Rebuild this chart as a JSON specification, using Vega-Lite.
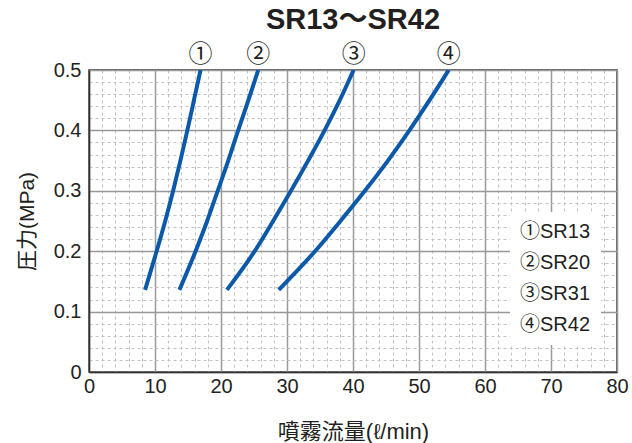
{
  "$schema": "https://vega.github.io/schema/vega-lite/v6.json",
  "autosize": "none",
  "width": 528,
  "height": 302,
  "padding": {"left": 89, "top": 70, "right": 15, "bottom": 71},
  "background": "white",
  "config": {
    "font": "Liberation Sans, Noto Sans CJK JP",
    "view": {"stroke": "#333333", "strokeWidth": 1.5},
    "axis": {"domainColor": "#333333", "domainWidth": 1.5}
  },
  "title": {
    "text": "SR13～SR42",
    "fontSize": 29,
    "fontWeight": "bold",
    "color": "#231f20",
    "anchor": "middle",
    "frame": "group",
    "offset": 8,
    "font": "Liberation Sans, Noto Sans CJK JP"
  },
  "data": {
    "values": [
      {"model": "①SR13", "label": "①", "flow": 8.5, "pressure": 0.136},
      {"model": "①SR13", "label": "①", "flow": 10.25, "pressure": 0.2},
      {"model": "①SR13", "label": "①", "flow": 11.55, "pressure": 0.25},
      {"model": "①SR13", "label": "①", "flow": 12.75, "pressure": 0.3},
      {"model": "①SR13", "label": "①", "flow": 13.85, "pressure": 0.35},
      {"model": "①SR13", "label": "①", "flow": 14.9, "pressure": 0.4},
      {"model": "①SR13", "label": "①", "flow": 15.9, "pressure": 0.45},
      {"model": "①SR13", "label": "①", "flow": 16.9, "pressure": 0.5},
      {"model": "②SR20", "label": "②", "flow": 13.7, "pressure": 0.136},
      {"model": "②SR20", "label": "②", "flow": 16.15, "pressure": 0.2},
      {"model": "②SR20", "label": "②", "flow": 17.9, "pressure": 0.25},
      {"model": "②SR20", "label": "②", "flow": 19.5, "pressure": 0.3},
      {"model": "②SR20", "label": "②", "flow": 21.1, "pressure": 0.35},
      {"model": "②SR20", "label": "②", "flow": 22.6, "pressure": 0.4},
      {"model": "②SR20", "label": "②", "flow": 24.15, "pressure": 0.45},
      {"model": "②SR20", "label": "②", "flow": 25.65, "pressure": 0.5},
      {"model": "③SR31", "label": "③", "flow": 20.9, "pressure": 0.136},
      {"model": "③SR31", "label": "③", "flow": 25.1, "pressure": 0.2},
      {"model": "③SR31", "label": "③", "flow": 27.9, "pressure": 0.25},
      {"model": "③SR31", "label": "③", "flow": 30.6, "pressure": 0.3},
      {"model": "③SR31", "label": "③", "flow": 33.2, "pressure": 0.35},
      {"model": "③SR31", "label": "③", "flow": 35.7, "pressure": 0.4},
      {"model": "③SR31", "label": "③", "flow": 38.0, "pressure": 0.45},
      {"model": "③SR31", "label": "③", "flow": 40.1, "pressure": 0.5},
      {"model": "④SR42", "label": "④", "flow": 28.75, "pressure": 0.136},
      {"model": "④SR42", "label": "④", "flow": 34.25, "pressure": 0.2},
      {"model": "④SR42", "label": "④", "flow": 38.1, "pressure": 0.25},
      {"model": "④SR42", "label": "④", "flow": 41.8, "pressure": 0.3},
      {"model": "④SR42", "label": "④", "flow": 45.3, "pressure": 0.35},
      {"model": "④SR42", "label": "④", "flow": 48.55, "pressure": 0.4},
      {"model": "④SR42", "label": "④", "flow": 51.6, "pressure": 0.45},
      {"model": "④SR42", "label": "④", "flow": 54.5, "pressure": 0.5}
    ]
  },
  "layer": [
    {
      "mark": {"type": "line", "strokeWidth": 4, "interpolate": "monotone", "clip": true},
      "encoding": {
        "x": {
          "field": "flow",
          "type": "quantitative",
          "scale": {"domain": [0, 80], "nice": false},
          "axis": {
            "title": "噴霧流量(ℓ/min)",
            "titleFontSize": 22,
            "titleFontWeight": "normal",
            "titleColor": "#231f20",
            "titlePadding": 25,
            "tickCount": 200,
            "values": [0,2,4,6,8,10,12,14,16,18,20,22,24,26,28,30,32,34,36,38,40,42,44,46,48,50,52,54,56,58,60,62,64,66,68,70,72,74,76,78,80],
            "labelExpr": "datum.value % 10 == 0 ? format(datum.value, 'd') : ''",
            "labelFontSize": 20,
            "labelColor": "#231f20",
            "labelPadding": 4,
            "labelFlush": false,
            "labelOverlap": false,
            "ticks": false,
            "grid": true,
            "gridColor": {"condition": {"test": "datum.value % 10 == 0", "value": "#999999"}, "value": "#c2c2c2"},
            "gridWidth": {"condition": {"test": "datum.value % 10 == 0", "value": 1.5}, "value": 1},
            "gridDash": {"condition": {"test": "datum.value % 10 == 0", "value": []}, "value": [3, 3]}
          }
        },
        "y": {
          "field": "pressure",
          "type": "quantitative",
          "scale": {"domain": [0, 0.5], "nice": false},
          "axis": {
            "title": "圧力(MPa)",
            "titleFontSize": 21,
            "titleFontWeight": "normal",
            "titleColor": "#231f20",
            "titlePadding": 16,
            "tickCount": 200,
            "values": [0,0.02,0.04,0.06,0.08,0.1,0.12,0.14,0.16,0.18,0.2,0.22,0.24,0.26,0.28,0.3,0.32,0.34,0.36,0.38,0.4,0.42,0.44,0.46,0.48,0.5],
            "labelExpr": "abs(datum.value*10 - round(datum.value*10)) < 0.001 ? (datum.value == 0 ? '0' : format(datum.value, '.1f')) : ''",
            "labelFontSize": 20,
            "labelColor": "#231f20",
            "labelPadding": 8,
            "labelFlush": false,
            "labelOverlap": false,
            "ticks": false,
            "grid": true,
            "gridColor": {"condition": {"test": "abs(datum.value*10 - round(datum.value*10)) < 0.001", "value": "#999999"}, "value": "#c2c2c2"},
            "gridWidth": {"condition": {"test": "abs(datum.value*10 - round(datum.value*10)) < 0.001", "value": 1.5}, "value": 1},
            "gridDash": {"condition": {"test": "abs(datum.value*10 - round(datum.value*10)) < 0.001", "value": []}, "value": [3, 3]}
          }
        },
        "color": {
          "field": "model",
          "type": "nominal",
          "scale": {"range": ["#0b59a8", "#0b59a8", "#0b59a8", "#0b59a8"]},
          "legend": {
            "title": null,
            "orient": "none",
            "legendX": 421,
            "legendY": 142,
            "fillColor": "white",
            "padding": 10,
            "symbolSize": 1,
            "symbolOpacity": 0,
            "symbolStrokeWidth": 0,
            "labelFontSize": 20,
            "labelColor": "#231f20",
            "labelOffset": -20,
            "labelLimit": 300,
            "rowPadding": 11,
            "labelFont": "Liberation Sans, Noto Sans CJK JP"
          }
        }
      }
    },
    {
      "transform": [{"filter": "datum.pressure == 0.5"}],
      "mark": {"type": "text", "fontSize": 24, "dy": -15, "color": "#231f20", "font": "Noto Sans CJK JP"},
      "encoding": {
        "x": {"field": "flow", "type": "quantitative"},
        "y": {"field": "pressure", "type": "quantitative"},
        "text": {"field": "label"}
      }
    }
  ]
}
